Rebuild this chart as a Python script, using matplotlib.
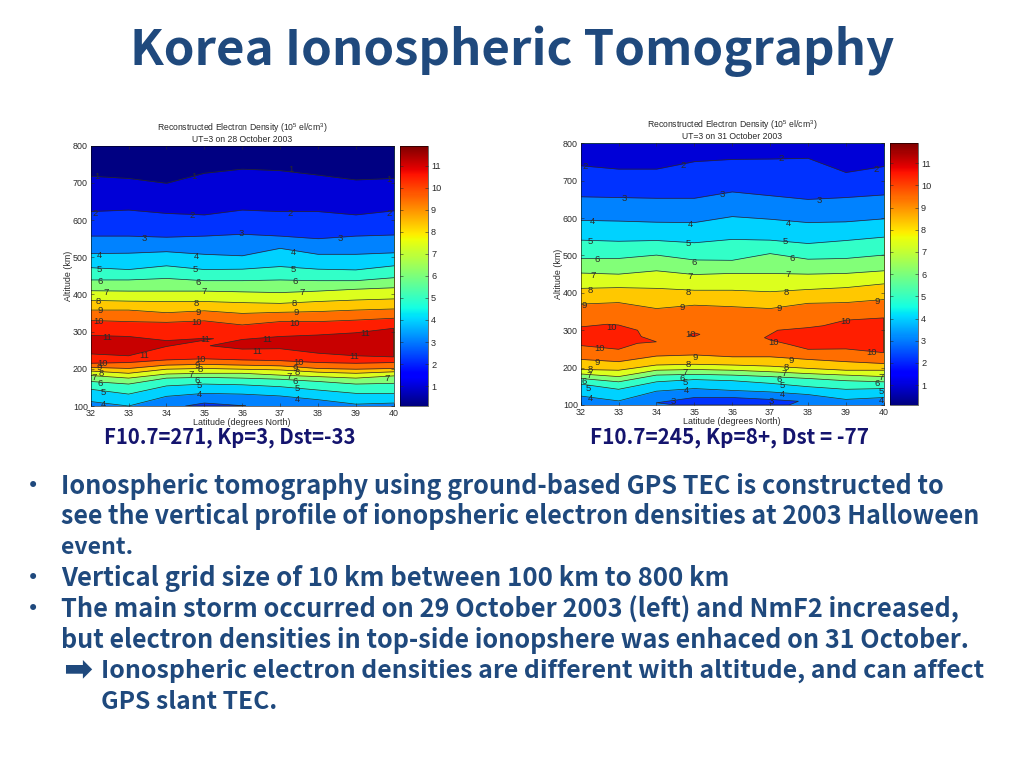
import numpy as np
import matplotlib
matplotlib.use("Agg")
import matplotlib.pyplot as plt
from matplotlib.cm import ScalarMappable
from matplotlib.colors import Normalize

plt.rcParams['font.family'] = ['Liberation Sans', 'DejaVu Sans']
plt.rcParams['mathtext.default'] = 'regular'

lats = [32, 33, 34, 35, 36, 37, 38, 39, 40]

# --- 28 October: height (km) of each contour at each latitude ---
# below the density peak, going up
left_below = {
    4: [112, 100, 126, 134, 132, 127, 117, 105, 108],
    5: [145, 132, 154, 159, 157, 152, 143, 134, 134],
    6: [166, 159, 175, 177, 175, 172, 166, 159, 161],
    7: [182, 175, 186, 188, 188, 183, 179, 175, 181],
    8: [194, 188, 199, 201, 199, 197, 191, 188, 192],
    9: [204, 201, 210, 212, 210, 208, 201, 199, 201],
    10: [215, 217, 224, 227, 224, 222, 217, 215, 217],
}
# above the density peak, going up
left_above = {
    10: [330, 327, 325, 329, 318, 327, 327, 331, 336],
    9: [358, 358, 351, 356, 349, 352, 354, 358, 361],
    8: [384, 382, 381, 381, 378, 376, 381, 385, 388],
    7: [410, 409, 409, 409, 407, 405, 409, 414, 418],
    6: [439, 439, 443, 437, 437, 439, 437, 437, 445],
    5: [472, 467, 477, 467, 468, 475, 468, 466, 477],
    4: [510, 511, 515, 508, 504, 524, 508, 508, 512],
    3: [557, 557, 554, 557, 562, 557, 550, 557, 560],
    2: [623, 627, 618, 614, 627, 623, 623, 614, 625],
    1: [718, 712, 699, 726, 737, 733, 721, 708, 712],
}
# closed regions: (level, latitudes, heights)
left_regions = [
    (11, [32, 33, 34, 35, 35.25, 34, 33, 32], [290, 287, 276, 282, 281, 260, 235, 240]),
    (11, [35.15, 36, 37, 38, 39, 40, 40, 39, 38, 37, 36], [262, 279, 287, 291, 297, 309, 232, 235, 242, 254, 253]),
    (2, [34.5, 35, 36, 36.1], [100, 108, 101, 100]),
]

# --- 31 October ---
right_below = {
    4: [124, 111, 137, 144, 139, 135, 128, 115, 120],
    5: [156, 142, 162, 168, 165, 158, 149, 142, 144],
    6: [171, 162, 180, 182, 180, 176, 171, 165, 162],
    7: [183, 176, 193, 195, 193, 189, 184, 180, 176],
    8: [195, 193, 207, 209, 207, 204, 198, 193, 193],
    9: [222, 216, 231, 234, 229, 229, 222, 216, 211],
}
right_above = {
    9: [370, 374, 358, 367, 363, 358, 372, 374, 382],
    8: [412, 414, 412, 407, 407, 403, 409, 414, 424],
    7: [453, 450, 459, 449, 452, 452, 450, 452, 459],
    6: [492, 492, 501, 488, 487, 505, 490, 492, 501],
    5: [541, 538, 540, 534, 543, 541, 532, 540, 549],
    4: [594, 592, 589, 588, 604, 597, 588, 590, 598],
    3: [657, 655, 653, 653, 670, 660, 650, 655, 662],
    2: [740, 731, 731, 751, 757, 758, 760, 722, 738],
}
right_regions = [
    (10, [32, 32.7, 33, 33.5, 33.6, 34, 33.5, 33, 32], [309, 316, 314, 300, 283, 269, 265, 249, 259]),
    (10, [36.85, 37.2, 38, 38.4, 39, 40, 40, 39, 38, 37.5, 37], [280, 300, 307, 312, 327, 333, 240, 250, 249, 262, 274]),
    (10, [34.85, 35, 35.15, 35], [287, 293, 289, 283]),
    (2, [34, 35, 36, 37, 37.75, 37.5, 34.5], [106, 120, 120, 115, 110, 100, 100]),
]

# contour labels as they sit in the picture: (text, latitude, height)
left_labels = [
    ("1", 32.16, 717), ("1", 34.73, 717), ("1", 37.28, 735), ("1", 39.87, 710),
    ("2", 32.13, 618), ("2", 34.69, 611), ("2", 37.26, 618), ("2", 39.87, 618),
    ("3", 33.4, 551), ("3", 35.98, 563), ("3", 38.58, 551),
    ("4", 32.22, 506), ("4", 34.8, 503), ("4", 37.36, 512), ("4", 32.33, 103),
    ("4", 34.87, 131), ("4", 37.45, 118),
    ("5", 32.22, 468), ("5", 34.77, 466), ("5", 37.36, 468),
    ("5", 32.33, 137), ("5", 34.88, 154), ("5", 37.45, 146),
    ("6", 32.25, 436), ("6", 34.83, 433), ("6", 37.41, 436),
    ("6", 32.25, 161), ("6", 34.82, 168), ("6", 37.41, 165),
    ("7", 32.42, 406), ("7", 34.99, 409), ("7", 37.58, 405),
    ("7", 32.08, 177), ("7", 34.66, 184), ("7", 37.23, 179), ("7", 39.82, 174),
    ("8", 32.2, 382), ("8", 34.78, 376), ("8", 37.37, 376),
    ("8", 32.29, 188), ("8", 34.88, 199), ("8", 37.45, 190),
    ("9", 32.26, 356), ("9", 34.85, 351), ("9", 37.43, 351),
    ("9", 32.23, 204), ("9", 34.81, 208), ("9", 37.39, 201),
    ("10", 32.2, 328), ("10", 34.8, 325), ("10", 37.37, 322),
    ("10", 32.31, 215), ("10", 34.89, 226), ("10", 37.48, 217),
    ("11", 32.43, 285), ("11", 35.01, 280), ("11", 36.67, 278), ("11", 39.24, 294),
    ("11", 33.4, 237), ("11", 36.4, 246), ("11", 38.95, 233),
]
right_labels = [
    ("2", 32.13, 738), ("2", 34.71, 740), ("2", 37.28, 760), ("2", 39.81, 730),
    ("3", 33.14, 652), ("3", 35.73, 662), ("3", 38.3, 648), ("3", 34.45, 109), ("3", 37.02, 109),
    ("4", 32.32, 590), ("4", 34.9, 584), ("4", 37.48, 586),
    ("4", 32.25, 117), ("4", 34.78, 138), ("4", 37.33, 129), ("4", 39.93, 113),
    ("5", 32.26, 536), ("5", 34.83, 532), ("5", 37.4, 536),
    ("5", 32.19, 144), ("5", 34.77, 160), ("5", 37.33, 151), ("5", 39.93, 137),
    ("6", 32.43, 489), ("6", 35, 482), ("6", 37.57, 492),
    ("6", 32.09, 162), ("6", 34.67, 171), ("6", 37.25, 168), ("6", 39.83, 158),
    ("7", 32.32, 447), ("7", 34.89, 445), ("7", 37.48, 448),
    ("7", 32.21, 180), ("7", 34.76, 187), ("7", 37.36, 185), ("7", 39.93, 174),
    ("8", 32.26, 407), ("8", 34.85, 402), ("8", 37.42, 402),
    ("8", 32.25, 195), ("8", 34.83, 209), ("8", 37.42, 200),
    ("9", 32.1, 366), ("9", 34.68, 362), ("9", 37.24, 357), ("9", 39.83, 377),
    ("9", 32.44, 214), ("9", 35.01, 227), ("9", 37.57, 218),
    ("10", 32.82, 308), ("10", 34.89, 289), ("10", 39, 324),
    ("10", 32.49, 250), ("10", 37.1, 266), ("10", 39.67, 240),
]

title_text = "Korea Ionospheric Tomography"
left_title = "Reconstructed Electron Density (10$^5$ el/cm$^3$)\nUT=3 on 28 October 2003"
right_title = "Reconstructed Electron Density (10$^5$ el/cm$^3$)\nUT=3 on 31 October 2003"
left_note = "F10.7=271, Kp=3, Dst=-33"
right_note = "F10.7=245, Kp=8+, Dst = -77"

# text, left edge, right edge, centre height in pixels
body_lines = [
    ("Ionospheric tomography using ground-based GPS TEC is constructed to", 61, 945, 487),
    ("see the vertical profile of ionopsheric electron densities at 2003 Halloween", 61, 981, 517),
    ("event.", 61, 133, 548),
    ("Vertical grid size of 10 km between 100 km to 800 km", 61, 731, 579),
    ("The main storm occurred on 29 October 2003 (left) and NmF2 increased,", 61, 959, 610),
    ("but electron densities in top-side ionopshere was enhaced on 31 October.", 61, 970, 640),
    ("Ionospheric electron densities are different with altitude, and can affect", 101, 985, 671),
    ("GPS slant TEC.", 101, 277, 702),
]
bullet_heights = [486, 578, 609]

# fill of each band, indexed by the contour at its lower edge
band_colours = ["#000082", "#0000D7", "#0032FF", "#0082FF", "#00D2FF", "#32FFC8",
                "#82FF78", "#DCFF1E", "#FFC800", "#FF6E00", "#FF1E00", "#C80000"]

W, H = 1024, 768
NAVY = "#1F497D"
INK = "#2a2a2a"
norm = Normalize(0.1, 11.9)
cmap = plt.get_cmap("jet")


def px_axes(fig, x0, y0, x1, y1):
    return fig.add_axes([x0 / W, 1 - y1 / H, (x1 - x0) / W, (y1 - y0) / H])


def draw_panel(fig, box, cbar_box, below, above, regions, labels, title, bottom_level=3):
    ax = px_axes(fig, *box)
    ax.set_xlim(32, 40)
    ax.set_ylim(100, 800)
    ax.set_facecolor(band_colours[bottom_level])

    # paint bands from the bottom up, each one covers everything above it
    for level, heights in below.items():
        ax.fill_between(lats, heights, 800, color=band_colours[level], lw=0)
    for level, heights in above.items():
        ax.fill_between(lats, heights, 800, color=band_colours[level - 1], lw=0)
    for level, xs, ys in regions:
        ax.fill(xs, ys, facecolor=band_colours[level], edgecolor=INK, lw=0.5)
    for heights in list(below.values()) + list(above.values()):
        ax.plot(lats, heights, color=INK, lw=0.5)

    for text, lat, alt in labels:
        ax.text(lat, alt, text, fontsize=6.8, color=INK, ha="center", va="center", clip_on=True)

    ax.set_xticks(lats)
    ax.set_yticks(range(100, 801, 100))
    ax.tick_params(direction="in", length=2, width=0.4, labelsize=6.4, top=True, right=True, pad=2, colors=INK)
    ax.set_xlabel("Latitude (degrees North)", fontsize=6.4, color=INK, labelpad=0.5)
    ax.set_ylabel("Altitude (km)", fontsize=6.4, color=INK, labelpad=0)
    ax.set_title(title, fontsize=6.2, color=INK, pad=3, linespacing=0.95)
    for s in ax.spines.values():
        s.set_linewidth(0.4)

    cax = px_axes(fig, *cbar_box)
    cb = fig.colorbar(ScalarMappable(norm=norm, cmap=cmap), cax=cax)
    cb.set_ticks(range(1, 12))
    cb.outline.set_linewidth(0.4)
    cax.tick_params(direction="in", length=2, width=0.4, labelsize=6.6, left=True, right=True, pad=2, colors=INK)
    return ax


fig = plt.figure(figsize=(W / 100, H / 100), dpi=100, facecolor="white")

draw_panel(fig, (90.7, 145.7, 393.7, 406), (400.3, 145.7, 428.3, 406),
           left_below, left_above, left_regions, left_labels, left_title)
draw_panel(fig, (580.7, 143.3, 883.7, 405), (890.3, 143.3, 918.3, 405),
           right_below, right_above, right_regions, right_labels, right_title)

renderer = fig.canvas.get_renderer()


def fit_text(text, x0, x1, yc, size, color, family="Noto Sans CJK KR"):
    # set the font size so the line spans x0..x1 in pixels
    t = fig.text(x0 / W, 1 - yc / H, text, fontsize=size, color=color, fontweight="bold",
                 family=family, ha="left", va="center")
    width = t.get_window_extent(renderer).width
    t.set_fontsize(size * (x1 - x0) / width)
    return t


fit_text(title_text, 130, 895, 51, 36, NAVY)
fit_text(left_note, 104, 356, 438, 13, "#14146E")
fit_text(right_note, 590, 870, 437, 13, "#14146E")

for text, x0, x1, yc in body_lines:
    fit_text(text, x0, x1, yc, 18, NAVY)
for yc in bullet_heights:
    fig.text(33 / W, 1 - yc / H, "\u2022", fontsize=15, color=NAVY, ha="center", va="center", family="DejaVu Sans")
fig.text(78 / W, 1 - 669 / H, "\u27a1", fontsize=25, color=NAVY, fontweight="bold", ha="center", va="center", family="DejaVu Sans")

fig.savefig("out.png", dpi=100)
